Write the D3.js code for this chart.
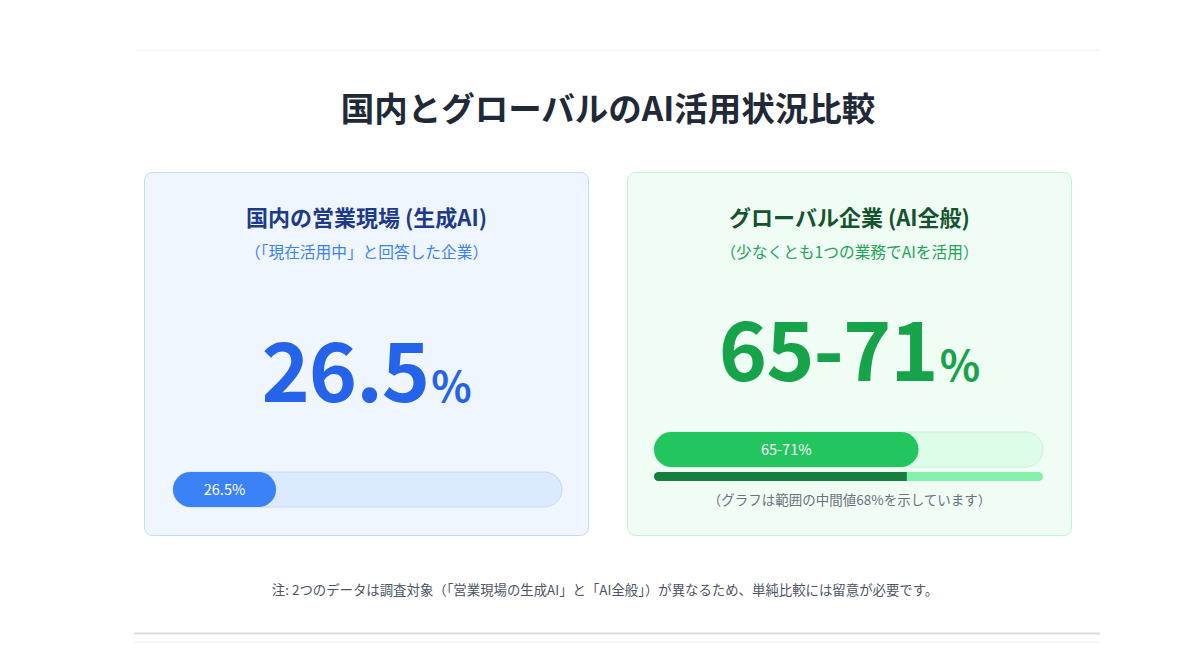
<!DOCTYPE html>
<html>
<head>
<meta charset="utf-8">
<script src="https://cdn.jsdelivr.net/npm/d3@7"></script>
<style>
  html, body { margin: 0; padding: 0; background: #ffffff; }
  svg { display: block; font-family: "Noto Sans CJK JP", "Noto Sans", sans-serif; }
</style>
</head>
<body>
<div id="viz_container"></div>
<script>
// data
const chartTitle = "国内とグローバルのAI活用状況比較";
const panelTitles = ["国内の営業現場 (生成AI)", "グローバル企業 (AI全般)"];
const panelSubtitles = ["（「現在活用中」と回答した企業）", "（少なくとも1つの業務でAIを活用）"];
const bigValues = ["26.5", "65-71"];
const barValues = [26.5, 68];          // bar length in %
const barLabels = ["26.5%", "65-71%"];
const rangeLow = [null, 65];            // lower end of range (thin bar)
const rangeNote = "（グラフは範囲の中間値68%を示しています）";
const footNote = "注: 2つのデータは調査対象（「営業現場の生成AI」と「AI全般」）が異なるため、単純比較には留意が必要です。";

// colour themes per panel
const themes = [
  {bg: "#eff6ff", border: "#bfdbfe", title: "#1e3a8a", sub: "#3b82f6", big: "#2563eb",
   track: "#dbeafe", trackStroke: "#c3d9fb", fill: "#3b82f6"},
  {bg: "#f0fdf4", border: "#bbf7d0", title: "#14532d", sub: "#22a35a", big: "#16a34a",
   track: "#dcfce7", trackStroke: "#c6f3d5", fill: "#22c55e", dark: "#15803d", light: "#86efac"}
];

const W = 1200, H = 670;
const svg = d3.select("#viz_container")
  .append("svg")
    .attr("width", W)
    .attr("height", H);

// outer card edges
svg.append("line").attr("x1", 136).attr("x2", 1099).attr("y1", 50.5).attr("y2", 50.5)
  .attr("stroke", "#f1f2f4").attr("stroke-width", 1.5);
svg.append("line").attr("x1", 134).attr("x2", 1100).attr("y1", 633.5).attr("y2", 633.5)
  .attr("stroke", "#dcdcdc").attr("stroke-width", 2);
svg.append("line").attr("x1", 134).attr("x2", 1100).attr("y1", 642).attr("y2", 642)
  .attr("stroke", "#eeeeee").attr("stroke-width", 1);

// title
svg.append("text")
  .attr("x", 608).attr("y", 121)
  .attr("text-anchor", "middle")
  .attr("font-size", 33.5).attr("font-weight", 700)
  .attr("fill", "#1f2937")
  .text(chartTitle);

// panels
const panelX = [144, 627];
const panelW = 445, panelY = 172, panelH = 364;
const trackX = [29, 27];       // offset of the bar inside each panel
const trackW = 389, trackH = 35;
const trackY = [472, 432];
const bigBaseline = [402, 381];

const x = d3.scaleLinear().domain([0, 100]).range([0, trackW]);

panelTitles.forEach((t, i) => {
  const th = themes[i];
  const g = svg.append("g").attr("transform", `translate(${panelX[i]},0)`);
  const cx = panelW / 2;

  g.append("rect")
    .attr("x", 0.5).attr("y", panelY + 0.5)
    .attr("width", panelW - 1).attr("height", panelH - 1)
    .attr("rx", 8)
    .attr("fill", th.bg).attr("stroke", th.border);

  g.append("text")
    .attr("x", cx).attr("y", 226)
    .attr("text-anchor", "middle")
    .attr("font-size", 22).attr("font-weight", 700)
    .attr("fill", th.title)
    .text(t);

  g.append("text")
    .attr("x", cx).attr("y", 258)
    .attr("text-anchor", "middle")
    .attr("font-size", 15.7)
    .attr("fill", th.sub)
    .text(panelSubtitles[i]);

  const big = g.append("text")
    .attr("x", cx).attr("y", bigBaseline[i])
    .attr("text-anchor", "middle")
    .attr("font-weight", 700)
    .attr("fill", th.big);
  big.append("tspan").attr("font-size", 82).attr("letter-spacing", -1).text(bigValues[i]);
  big.append("tspan").attr("font-size", 42).attr("dx", 2).text("%");

  // main bar
  const bx = trackX[i];
  g.append("rect")
    .attr("x", bx).attr("y", trackY[i])
    .attr("width", x(100)).attr("height", trackH)
    .attr("rx", trackH / 2)
    .attr("fill", th.track).attr("stroke", th.trackStroke);
  g.append("rect")
    .attr("x", bx).attr("y", trackY[i])
    .attr("width", x(barValues[i])).attr("height", trackH)
    .attr("rx", trackH / 2)
    .attr("fill", th.fill);
  g.append("text")
    .attr("x", bx + x(barValues[i]) / 2).attr("y", trackY[i] + trackH / 2)
    .attr("dy", "0.35em")
    .attr("text-anchor", "middle")
    .attr("font-size", 14.5).attr("font-weight", 400)
    .attr("fill", "#ffffff")
    .text(barLabels[i]);

  // range bar
  if (rangeLow[i] != null) {
    const ry = trackY[i] + trackH + 5, rh = 9;
    g.append("rect")
      .attr("x", bx).attr("y", ry)
      .attr("width", x(100)).attr("height", rh)
      .attr("rx", rh / 2)
      .attr("fill", th.light);
    g.append("path")
      .attr("d", `M${bx + rh / 2},${ry} H${bx + x(rangeLow[i])} V${ry + rh} H${bx + rh / 2} A${rh / 2},${rh / 2} 0 0 1 ${bx + rh / 2},${ry} Z`)
      .attr("fill", th.dark);
    g.append("text")
      .attr("x", cx).attr("y", 505)
      .attr("text-anchor", "middle")
      .attr("font-size", 13.5)
      .attr("fill", "#6b7280")
      .text(rangeNote);
  }
});

// foot note
svg.append("text")
  .attr("x", 605).attr("y", 595)
  .attr("text-anchor", "middle")
  .attr("font-size", 13.4)
  .attr("fill", "#4b5563")
  .text(footNote);
</script>
</body>
</html>
